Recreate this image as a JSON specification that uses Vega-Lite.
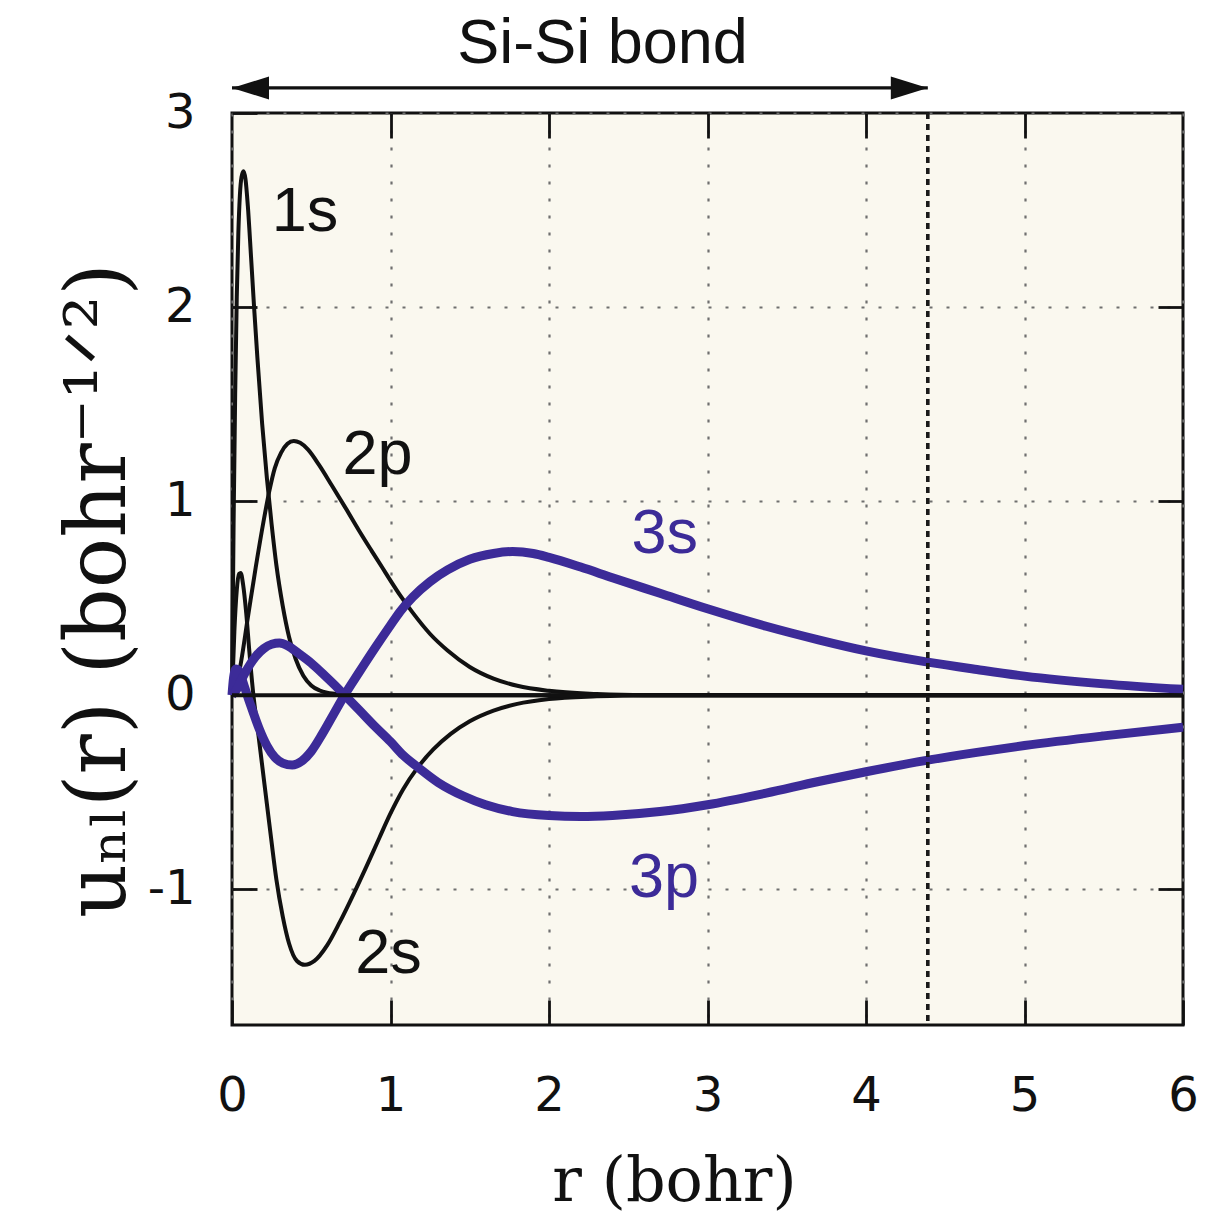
{
"$schema": "https://vega.github.io/schema/vega-lite/v6.json",
"width": 951, "height": 912,
"autosize": {"type": "none"},
"padding": {"left": 232, "top": 113, "right": 22, "bottom": 205},
"background": "#ffffff",
"config": {"view": {"fill": "#faf8ef", "stroke": "#111111", "strokeWidth": 3}},
"resolve": {"axis": {"x": "independent", "y": "independent"}},
"datasets": {
"orb": [
{"o":"1s","r":0,"u":0},{"o":"1s","r":0.01,"u":0.88},{"o":"1s","r":0.02,"u":1.55},{"o":"1s","r":0.03,"u":2.05},{"o":"1s","r":0.04,"u":2.38},{"o":"1s","r":0.05,"u":2.58},{"o":"1s","r":0.06,"u":2.67},{"o":"1s","r":0.072,"u":2.7},{"o":"1s","r":0.085,"u":2.66},{"o":"1s","r":0.1,"u":2.52},{"o":"1s","r":0.12,"u":2.26},{"o":"1s","r":0.14,"u":1.99},{"o":"1s","r":0.16,"u":1.74},{"o":"1s","r":0.19,"u":1.4},{"o":"1s","r":0.22,"u":1.12},{"o":"1s","r":0.25,"u":0.88},{"o":"1s","r":0.28,"u":0.67},{"o":"1s","r":0.32,"u":0.46},{"o":"1s","r":0.36,"u":0.3},{"o":"1s","r":0.4,"u":0.19},{"o":"1s","r":0.45,"u":0.1},{"o":"1s","r":0.5,"u":0.05},{"o":"1s","r":0.55,"u":0.025},{"o":"1s","r":0.6,"u":0.012},{"o":"1s","r":0.7,"u":0.003},{"o":"1s","r":0.8,"u":0},{"o":"1s","r":6,"u":0},
{"o":"2s","r":0,"u":0},{"o":"2s","r":0.015,"u":0.33},{"o":"2s","r":0.03,"u":0.54},{"o":"2s","r":0.045,"u":0.625},{"o":"2s","r":0.055,"u":0.63},{"o":"2s","r":0.07,"u":0.57},{"o":"2s","r":0.09,"u":0.42},{"o":"2s","r":0.11,"u":0.22},{"o":"2s","r":0.135,"u":0},{"o":"2s","r":0.16,"u":-0.16},{"o":"2s","r":0.19,"u":-0.36},{"o":"2s","r":0.22,"u":-0.56},{"o":"2s","r":0.25,"u":-0.76},{"o":"2s","r":0.28,"u":-0.95},{"o":"2s","r":0.32,"u":-1.14},{"o":"2s","r":0.36,"u":-1.28},{"o":"2s","r":0.41,"u":-1.37},{"o":"2s","r":0.46,"u":-1.39},{"o":"2s","r":0.52,"u":-1.37},{"o":"2s","r":0.6,"u":-1.29},{"o":"2s","r":0.68,"u":-1.17},{"o":"2s","r":0.77,"u":-1.02},{"o":"2s","r":0.85,"u":-0.88},{"o":"2s","r":0.93,"u":-0.735},{"o":"2s","r":1,"u":-0.61},{"o":"2s","r":1.08,"u":-0.485},{"o":"2s","r":1.17,"u":-0.375},{"o":"2s","r":1.27,"u":-0.28},{"o":"2s","r":1.38,"u":-0.2},{"o":"2s","r":1.5,"u":-0.135},{"o":"2s","r":1.65,"u":-0.08},{"o":"2s","r":1.8,"u":-0.045},{"o":"2s","r":2,"u":-0.02},{"o":"2s","r":2.3,"u":-0.006},{"o":"2s","r":2.6,"u":0},{"o":"2s","r":6,"u":0},
{"o":"2p","r":0,"u":0},{"o":"2p","r":0.05,"u":0.14},{"o":"2p","r":0.1,"u":0.4},{"o":"2p","r":0.15,"u":0.66},{"o":"2p","r":0.2,"u":0.9},{"o":"2p","r":0.235,"u":1.05},{"o":"2p","r":0.27,"u":1.17},{"o":"2p","r":0.31,"u":1.25},{"o":"2p","r":0.35,"u":1.295},{"o":"2p","r":0.39,"u":1.31},{"o":"2p","r":0.43,"u":1.3},{"o":"2p","r":0.48,"u":1.265},{"o":"2p","r":0.55,"u":1.185},{"o":"2p","r":0.63,"u":1.08},{"o":"2p","r":0.72,"u":0.96},{"o":"2p","r":0.8,"u":0.85},{"o":"2p","r":0.88,"u":0.745},{"o":"2p","r":0.95,"u":0.655},{"o":"2p","r":1,"u":0.59},{"o":"2p","r":1.06,"u":0.515},{"o":"2p","r":1.14,"u":0.425},{"o":"2p","r":1.25,"u":0.315},{"o":"2p","r":1.36,"u":0.23},{"o":"2p","r":1.5,"u":0.145},{"o":"2p","r":1.65,"u":0.085},{"o":"2p","r":1.8,"u":0.048},{"o":"2p","r":2,"u":0.022},{"o":"2p","r":2.3,"u":0.006},{"o":"2p","r":2.6,"u":0},{"o":"2p","r":6,"u":0},
{"o":"3s","r":0,"u":0},{"o":"3s","r":0.01,"u":0.09},{"o":"3s","r":0.025,"u":0.135},{"o":"3s","r":0.04,"u":0.13},{"o":"3s","r":0.06,"u":0.09},{"o":"3s","r":0.08,"u":0.04},{"o":"3s","r":0.1,"u":-0.01},{"o":"3s","r":0.13,"u":-0.08},{"o":"3s","r":0.17,"u":-0.17},{"o":"3s","r":0.22,"u":-0.26},{"o":"3s","r":0.27,"u":-0.32},{"o":"3s","r":0.32,"u":-0.35},{"o":"3s","r":0.38,"u":-0.36},{"o":"3s","r":0.44,"u":-0.34},{"o":"3s","r":0.5,"u":-0.29},{"o":"3s","r":0.57,"u":-0.2},{"o":"3s","r":0.64,"u":-0.1},{"o":"3s","r":0.71,"u":0},{"o":"3s","r":0.8,"u":0.115},{"o":"3s","r":0.9,"u":0.24},{"o":"3s","r":1,"u":0.36},{"o":"3s","r":1.06,"u":0.43},{"o":"3s","r":1.14,"u":0.505},{"o":"3s","r":1.25,"u":0.585},{"o":"3s","r":1.36,"u":0.645},{"o":"3s","r":1.5,"u":0.7},{"o":"3s","r":1.65,"u":0.73},{"o":"3s","r":1.77,"u":0.74},{"o":"3s","r":1.9,"u":0.73},{"o":"3s","r":2,"u":0.71},{"o":"3s","r":2.2,"u":0.66},{"o":"3s","r":2.4,"u":0.605},{"o":"3s","r":2.7,"u":0.525},{"o":"3s","r":3,"u":0.445},{"o":"3s","r":3.37,"u":0.355},{"o":"3s","r":3.7,"u":0.285},{"o":"3s","r":4,"u":0.228},{"o":"3s","r":4.39,"u":0.17},{"o":"3s","r":4.7,"u":0.132},{"o":"3s","r":5,"u":0.098},{"o":"3s","r":5.5,"u":0.058},{"o":"3s","r":6,"u":0.03},
{"o":"3p","r":0,"u":0},{"o":"3p","r":0.03,"u":0.03},{"o":"3p","r":0.06,"u":0.08},{"o":"3p","r":0.1,"u":0.14},{"o":"3p","r":0.15,"u":0.2},{"o":"3p","r":0.2,"u":0.24},{"o":"3p","r":0.25,"u":0.262},{"o":"3p","r":0.3,"u":0.268},{"o":"3p","r":0.35,"u":0.255},{"o":"3p","r":0.42,"u":0.215},{"o":"3p","r":0.5,"u":0.165},{"o":"3p","r":0.58,"u":0.105},{"o":"3p","r":0.65,"u":0.05},{"o":"3p","r":0.71,"u":0},{"o":"3p","r":0.8,"u":-0.075},{"o":"3p","r":0.9,"u":-0.16},{"o":"3p","r":1,"u":-0.24},{"o":"3p","r":1.08,"u":-0.31},{"o":"3p","r":1.17,"u":-0.37},{"o":"3p","r":1.3,"u":-0.45},{"o":"3p","r":1.46,"u":-0.52},{"o":"3p","r":1.6,"u":-0.565},{"o":"3p","r":1.77,"u":-0.6},{"o":"3p","r":2,"u":-0.62},{"o":"3p","r":2.2,"u":-0.625},{"o":"3p","r":2.4,"u":-0.62},{"o":"3p","r":2.7,"u":-0.6},{"o":"3p","r":3,"u":-0.565},{"o":"3p","r":3.37,"u":-0.505},{"o":"3p","r":3.7,"u":-0.445},{"o":"3p","r":4,"u":-0.395},{"o":"3p","r":4.39,"u":-0.335},{"o":"3p","r":4.7,"u":-0.295},{"o":"3p","r":5,"u":-0.26},{"o":"3p","r":5.5,"u":-0.21},{"o":"3p","r":6,"u":-0.165}
],
"labels": [
{"t":"1s","r":0.46,"u":2.49,"g":"core"},
{"t":"2p","r":0.918,"u":1.237,"g":"core"},
{"t":"2s","r":0.987,"u":-1.334,"g":"core"},
{"t":"3s","r":2.73,"u":0.83,"g":"valence"},
{"t":"3p","r":2.726,"u":-0.94,"g":"valence"},
{"t":"Si-Si bond","r":2.338,"u":3.356,"g":"annot"}
],
"bond": [{"r0":0,"r1":4.39,"u":3.129}]
},
"layer": [
{
"data": {"name": "orb"},
"transform": [{"filter": "datum.o == '1s' || datum.o == '2s' || datum.o == '2p'"}],
"mark": {"type": "line", "interpolate": "monotone", "color": "#111111", "strokeWidth": 4},
"encoding": {
"x": {"field": "r", "type": "quantitative", "scale": {"domain": [0, 6], "nice": false, "zero": false},
 "axis": {"orient": "bottom", "values": [0,1,2,3,4,5,6], "labelExpr": "'' + datum.value", "grid": true, "gridDash": [3,14], "gridColor": "#6f6f6f", "gridWidth": 2.2, "domain": false, "ticks": true, "tickSize": -25, "tickWidth": 2.8, "tickColor": "#111111", "labelFont": "DejaVu Sans", "labelFontSize": 48, "labelColor": "#111111", "labelPadding": 72, "labelFlush": false, "labelOverlap": false, "title": "r (bohr)", "titleFont": "DejaVu Serif", "titleFontSize": 62, "titleFontWeight": "normal", "titleColor": "#111111", "titleX": 442, "titleY": 175, "titleBaseline": "alphabetic", "titleAlign": "center"}},
"y": {"field": "u", "type": "quantitative", "scale": {"domain": [-1.7, 3], "nice": false, "zero": false},
 "axis": {"orient": "left", "values": [-1,0,1,2,3], "labelExpr": "'' + datum.value", "grid": true, "gridDash": [3,14], "gridColor": "#6f6f6f", "gridWidth": 2.2, "domain": false, "ticks": true, "tickSize": -25, "tickWidth": 2.8, "tickColor": "#111111", "labelFont": "DejaVu Sans", "labelFontSize": 48, "labelColor": "#111111", "labelPadding": 62, "labelOverlap": false, "title": "uₙₗ(r) (bohr⁻¹ᐟ²)", "titleFont": "DejaVu Serif", "titleFontSize": 84, "titleFontWeight": "normal", "titleColor": "#111111", "titleX": -108, "titleY": 477, "titleAngle": -90, "titleBaseline": "alphabetic", "titleAlign": "center"}},
"detail": {"field": "o"}
}
},
{
"data": {"name": "orb"},
"transform": [{"filter": "datum.o == '3s' || datum.o == '3p'"}],
"mark": {"type": "line", "interpolate": "monotone", "color": "#3c2b98", "strokeWidth": 9},
"encoding": {
"x": {"field": "r", "type": "quantitative", "scale": {"domain": [0, 6], "nice": false, "zero": false},
 "axis": {"orient": "top", "values": [1,2,3,4,5], "labels": false, "grid": false, "domain": false, "ticks": true, "tickSize": -25, "tickWidth": 2.8, "tickColor": "#111111", "title": null}},
"y": {"field": "u", "type": "quantitative", "scale": {"domain": [-1.7, 3], "nice": false, "zero": false},
 "axis": {"orient": "right", "values": [-1,1,2], "labels": false, "grid": false, "domain": false, "ticks": true, "tickSize": -25, "tickWidth": 2.8, "tickColor": "#111111", "title": null}},
"detail": {"field": "o"}
}
},
{
"data": {"values": [{}]},
"mark": {"type": "rule", "color": "#111111", "strokeWidth": 4},
"encoding": {"y": {"datum": 0, "type": "quantitative", "scale": {"domain": [-1.7, 3], "nice": false, "zero": false}, "axis": null}}
},
{
"data": {"name": "bond"},
"mark": {"type": "rule", "color": "#1a1a1a", "strokeWidth": 3.6, "strokeDash": [6, 5]},
"encoding": {"x": {"field": "r1", "type": "quantitative", "scale": {"domain": [0, 6], "nice": false, "zero": false}, "axis": null}}
},
{
"data": {"name": "bond"},
"mark": {"type": "rule", "color": "#111111", "strokeWidth": 3.2},
"encoding": {
"x": {"field": "r0", "type": "quantitative", "scale": {"domain": [0, 6], "nice": false, "zero": false}, "axis": null},
"x2": {"field": "r1"},
"y": {"field": "u", "type": "quantitative", "scale": {"domain": [-1.7, 3], "nice": false, "zero": false}, "axis": null}
}
},
{
"data": {"name": "bond"},
"mark": {"type": "point", "shape": "M0,0L2,-0.62L2,0.62Z", "filled": true, "color": "#111111", "opacity": 1, "size": 1369},
"encoding": {
"x": {"field": "r0", "type": "quantitative", "scale": {"domain": [0, 6], "nice": false, "zero": false}, "axis": null},
"y": {"field": "u", "type": "quantitative", "scale": {"domain": [-1.7, 3], "nice": false, "zero": false}, "axis": null}
}
},
{
"data": {"name": "bond"},
"mark": {"type": "point", "shape": "M0,0L-2,-0.62L-2,0.62Z", "filled": true, "color": "#111111", "opacity": 1, "size": 1369},
"encoding": {
"x": {"field": "r1", "type": "quantitative", "scale": {"domain": [0, 6], "nice": false, "zero": false}, "axis": null},
"y": {"field": "u", "type": "quantitative", "scale": {"domain": [-1.7, 3], "nice": false, "zero": false}, "axis": null}
}
},
{
"data": {"name": "labels"},
"mark": {"type": "text", "font": "Liberation Sans", "fontSize": 63, "align": "center", "baseline": "middle"},
"encoding": {
"x": {"field": "r", "type": "quantitative", "scale": {"domain": [0, 6], "nice": false, "zero": false}, "axis": null},
"y": {"field": "u", "type": "quantitative", "scale": {"domain": [-1.7, 3], "nice": false, "zero": false}, "axis": null},
"text": {"field": "t"},
"color": {"field": "g", "type": "nominal", "scale": {"domain": ["core", "annot", "valence"], "range": ["#111111", "#111111", "#3c2b98"]}, "legend": null}
}
}
]
}
